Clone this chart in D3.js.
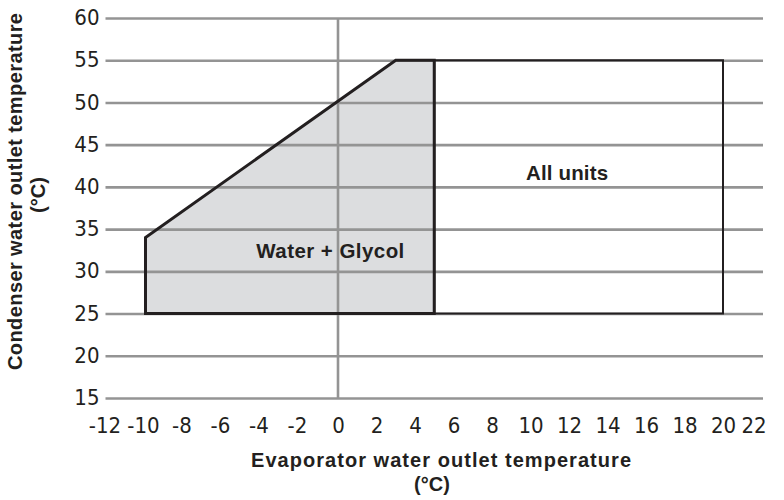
<!DOCTYPE html>
<html>
<head>
<meta charset="utf-8">
<script src="https://cdn.jsdelivr.net/npm/d3@7"></script>
<style>
  html, body { margin: 0; padding: 0; background: #fff; }
  svg { display: block; }
</style>
</head>
<body>
<svg id="chart" width="784" height="500"></svg>
<script>
// ---- data ----
const xTicks = [-12, -10, -8, -6, -4, -2, 0, 2, 4, 6, 8, 10, 12, 14, 16, 18, 20, 22];
const yTicks = [15, 20, 25, 30, 35, 40, 45, 50, 55, 60];
const glycolX = [-10, -10, 3, 5, 5];
const glycolY = [25, 34, 55, 55, 25];
const allUnitsX = [5, 20, 20, 5];
const allUnitsY = [25, 25, 55, 55];
const glycolLabel = "Water + Glycol";
const allUnitsLabel = "All units";
const xTitle = ["Evaporator water outlet temperature", "(°C)"];
const yTitle = ["Condenser water outlet temperature", "(°C)"];

// ---- setup ----
const svg = d3.select("#chart");
const x = d3.scaleLinear().domain([-12, 22]).range([107, 761.5]);
const y = d3.scaleLinear().domain([15, 60]).range([398, 18]);

const gridColor = "#949494";
const dark = "#231f20";
const tickFont = "'Liberation Sans Narrow', 'Arial Narrow', 'DejaVu Sans Condensed', sans-serif";
const boldFont = "'Liberation Sans', Arial, Helvetica, sans-serif";

const line = d3.line().x(d => x(d[0])).y(d => y(d[1]));
const glycolPts = glycolX.map((v, i) => [v, glycolY[i]]);
const allPts = allUnitsX.map((v, i) => [v, allUnitsY[i]]);

// glycol fill (under gridlines)
svg.append("path")
  .attr("d", line(glycolPts) + "Z")
  .attr("fill", "#dcdddf")
  .attr("stroke", "none");

// horizontal gridlines (via axis)
const yAxisG = svg.append("g")
  .attr("transform", `translate(${x(-12) - 1.5},0)`)
  .call(d3.axisLeft(y).tickValues(yTicks).tickSize(-(x(22) - x(-12) + 3)).tickPadding(6));
yAxisG.select(".domain").remove();
yAxisG.selectAll(".tick line").attr("stroke", gridColor).attr("stroke-width", 2.6);
yAxisG.selectAll(".tick text")
  .attr("font-family", tickFont)
  .attr("font-size", 22)
  .attr("fill", dark)
  .attr("x", -6)
  .attr("dy", "0.3em");

// vertical zero line
svg.append("line")
  .attr("x1", x(0)).attr("x2", x(0))
  .attr("y1", y(60)).attr("y2", y(15))
  .attr("stroke", gridColor).attr("stroke-width", 2.6);

// x tick labels
const xAxisG = svg.append("g")
  .attr("transform", `translate(0,${y(15)})`)
  .call(d3.axisBottom(x).tickValues(xTicks).tickSize(0).tickPadding(19));
xAxisG.select(".domain").remove();
xAxisG.selectAll(".tick text")
  .attr("font-family", tickFont)
  .attr("font-size", 22)
  .attr("fill", dark)
  .attr("dy", "0.71em")
  .each(function(d) {
    const t = d3.select(this);
    if (d < 0) {
      t.text(String(Math.abs(d)));
      const w = this.getComputedTextLength();
      t.text(String(d)).attr("text-anchor", "end").attr("x", w / 2 + 1);
    }
    if (d === xTicks[xTicks.length - 1]) t.attr("x", -8);
  });

// all units rectangle
svg.append("path")
  .attr("d", line(allPts) + "Z")
  .attr("fill", "none")
  .attr("stroke", dark)
  .attr("stroke-width", 2);

// glycol outline
svg.append("path")
  .attr("d", line(glycolPts) + "Z")
  .attr("fill", "none")
  .attr("stroke", dark)
  .attr("stroke-width", 3)
  .attr("stroke-linejoin", "miter");

// region labels
svg.append("text")
  .attr("x", x(-0.4)).attr("y", y(31.6))
  .attr("text-anchor", "middle")
  .attr("font-family", boldFont).attr("font-weight", "bold")
  .attr("font-size", 20.5).attr("fill", dark)
  .attr("textLength", 148).attr("lengthAdjust", "spacing")
  .text(glycolLabel);

svg.append("text")
  .attr("x", x(11.9)).attr("y", y(40.8))
  .attr("text-anchor", "middle")
  .attr("font-family", boldFont).attr("font-weight", "bold")
  .attr("font-size", 20.5).attr("fill", dark)
  .attr("textLength", 82).attr("lengthAdjust", "spacing")
  .text(allUnitsLabel);

// x title
svg.append("text")
  .attr("x", 441).attr("y", 467)
  .attr("text-anchor", "middle")
  .attr("font-family", boldFont).attr("font-weight", "bold")
  .attr("font-size", 20).attr("fill", dark)
  .attr("textLength", 380).attr("lengthAdjust", "spacing")
  .text(xTitle[0]);
svg.append("text")
  .attr("x", 432).attr("y", 491)
  .attr("text-anchor", "middle")
  .attr("font-family", boldFont).attr("font-weight", "bold")
  .attr("font-size", 20).attr("fill", dark)
  .text(xTitle[1]);

// y title
svg.append("text")
  .attr("transform", "translate(22,191.5) rotate(-90)")
  .attr("text-anchor", "middle")
  .attr("font-family", boldFont).attr("font-weight", "bold")
  .attr("font-size", 20).attr("fill", dark)
  .attr("textLength", 357).attr("lengthAdjust", "spacing")
  .text(yTitle[0]);
svg.append("text")
  .attr("transform", "translate(45,195) rotate(-90)")
  .attr("text-anchor", "middle")
  .attr("font-family", boldFont).attr("font-weight", "bold")
  .attr("font-size", 20).attr("fill", dark)
  .text(yTitle[1]);
</script>
</body>
</html>
